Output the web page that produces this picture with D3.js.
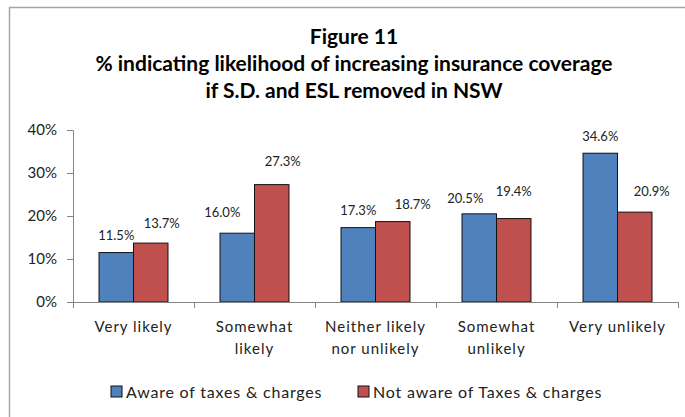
<!DOCTYPE html>
<html lang="en">
<head>
    <meta charset="UTF-8">
    <title>Figure 11</title>
    <script src="https://cdn.jsdelivr.net/npm/d3@7"></script>
    <style>
        body { margin: 0; background: #fff; }
        text { font-family: Lato, "Open Sans", sans-serif; fill: #222; }
    </style>
</head>
<body>
<script type="text/javascript">
    // data
    var categories = ['Very likely', 'Somewhat likely', 'Neither likely nor unlikely', 'Somewhat unlikely', 'Very unlikely'];
    var categoryLines = [['Very likely'], ['Somewhat', 'likely'], ['Neither likely', 'nor unlikely'], ['Somewhat', 'unlikely'], ['Very unlikely']];
    var seriesNames = ['Aware of taxes & charges', 'Not aware of Taxes & charges'];
    var aware = [11.5, 16.0, 17.3, 20.5, 34.6];
    var notAware = [13.7, 27.3, 18.7, 19.4, 20.9];
    var yTicks = [0, 10, 20, 30, 40];
    var titleLines = ['Figure 11', '% indicating likelihood of increasing insurance coverage', 'if S.D. and ESL removed in NSW'];

    // hand-placed label nudges in the original (dx, dy in px)
    var labelNudge = [
        [[0, 0], [11, -3]],
        [[-15, -4], [11, -6]],
        [[0, 0], [20, 0]],
        [[-14, 2], [0, -10]],
        [[0, 0], [17, -4]]
    ];

    var colors = ['#4F81BD', '#C0504D'];
    var width = 685, height = 417;

    var svg = d3.select('body').append('svg')
            .attr('width', width)
            .attr('height', height);

    // frame
    svg.append('path')
            .attr('d', 'M9.5,' + height + 'V7.5H' + width)
            .attr('fill', 'none')
            .attr('stroke', '#a6a6a6')
            .attr('stroke-width', 1.5);

    // title
    svg.selectAll('.title')
            .data(titleLines)
            .enter()
            .append('text')
            .attr('class', 'title')
            .attr('x', 354)
            .attr('y', function (d, i) { return 37 + i * 27; })
            .attr('dy', '0.35em')
            .attr('text-anchor', 'middle')
            .style('font-weight', 'bold')
            .style('font-size', '21px')
            .style('fill', '#000')
            .text(function (d) { return d; });

    var x0 = d3.scaleBand()
            .domain(categories)
            .range([73, 678])
            .paddingInner(0.43)
            .paddingOuter(0.215);
    var x1 = d3.scaleBand()
            .domain([0, 1])
            .range([0, x0.bandwidth()]);
    var y = d3.scaleLinear()
            .domain([0, 40])
            .range([302, 130]);

    // y axis
    var yAxis = d3.axisLeft(y)
            .tickValues(yTicks)
            .tickSize(6)
            .tickSizeOuter(0)
            .tickPadding(10)
            .tickFormat(function (d) { return d + '%'; });
    var gy = svg.append('g')
            .attr('transform', 'translate(73,0)')
            .call(yAxis);
    gy.selectAll('path, line').attr('stroke', '#868686');
    gy.selectAll('text')
            .style('font-size', '15px')
            .style('font-family', 'Lato, sans-serif')
            .attr('fill', '#222');

    // bars
    var groups = svg.selectAll('.grp')
            .data(categories)
            .enter()
            .append('g')
            .attr('class', 'grp')
            .attr('transform', function (d) { return 'translate(' + x0(d) + ',0)'; });

    groups.selectAll('rect')
            .data(function (d, i) { return [aware[i], notAware[i]]; })
            .enter()
            .append('rect')
            .attr('x', function (d, j) { return x1(j); })
            .attr('y', function (d) { return y(d); })
            .attr('width', x1.bandwidth())
            .attr('height', function (d) { return y(0) - y(d); })
            .attr('fill', function (d, j) { return colors[j]; })
            .attr('stroke', '#111')
            .attr('stroke-width', 1);

    groups.selectAll('.lbl')
            .data(function (d, i) {
                return [aware[i], notAware[i]].map(function (v, j) {
                    return {v: v, j: j, n: labelNudge[i][j]};
                });
            })
            .enter()
            .append('text')
            .attr('class', 'lbl')
            .attr('x', function (d) { return x1(d.j) + x1.bandwidth() / 2 + d.n[0]; })
            .attr('y', function (d) { return y(d.v) - 17 + d.n[1]; })
            .attr('dy', '0.35em')
            .attr('text-anchor', 'middle')
            .style('font-size', '13px')
            .text(function (d) { return d.v.toFixed(1) + '%'; });

    // x axis with ticks on category boundaries
    var step = x0.step();
    var bounds = d3.range(categories.length + 1).map(function (i) { return 73 + i * step; });
    svg.append('line')
            .attr('x1', 73).attr('x2', 678)
            .attr('y1', y(0) + 0.5).attr('y2', y(0) + 0.5)
            .attr('stroke', '#868686');
    svg.selectAll('.xtick')
            .data(bounds)
            .enter()
            .append('line')
            .attr('x1', function (d) { return d + 0.5; })
            .attr('x2', function (d) { return d + 0.5; })
            .attr('y1', y(0))
            .attr('y2', y(0) + 6)
            .attr('stroke', '#868686');

    var xl = svg.selectAll('.xlab')
            .data(categories)
            .enter()
            .append('text')
            .attr('class', 'xlab')
            .attr('text-anchor', 'middle')
            .style('font-size', '15px')
            .style('letter-spacing', '1px')
            .attr('transform', function (d) { return 'translate(' + (x0(d) + x0.bandwidth() / 2) + ',0)'; });
    xl.selectAll('tspan')
            .data(function (d, i) { return categoryLines[i]; })
            .enter()
            .append('tspan')
            .attr('x', 0)
            .attr('y', function (d, k) { return 327 + k * 22; })
            .attr('dy', '0.35em')
            .text(function (d) { return d; });

    // legend
    var legendX = [111, 358];
    var lg = svg.selectAll('.leg')
            .data(seriesNames)
            .enter()
            .append('g')
            .attr('class', 'leg')
            .attr('transform', function (d, i) { return 'translate(' + legendX[i] + ',386)'; });
    lg.append('rect')
            .attr('width', 11)
            .attr('height', 11)
            .attr('fill', function (d, i) { return colors[i]; })
            .attr('stroke', '#111');
    lg.append('text')
            .attr('x', 15)
            .attr('y', 6)
            .attr('dy', '0.35em')
            .style('font-size', '16px')
            .style('letter-spacing', '0.8px')
            .text(function (d) { return d; });
</script>
</body>
</html>
